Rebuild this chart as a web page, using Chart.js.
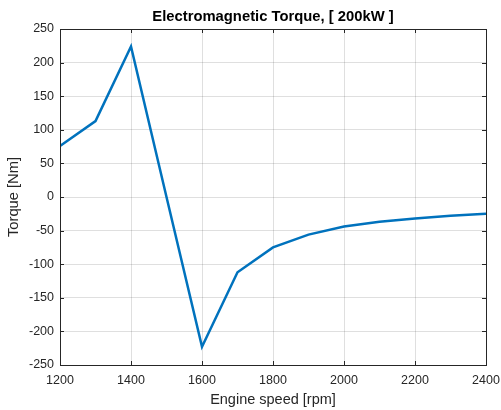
<!DOCTYPE html>
<html>
<head>
<meta charset="utf-8">
<script src="https://cdn.jsdelivr.net/npm/chart.js@4"></script>
<style>
  html, body { margin: 0; padding: 0; background: #fff; }
  #wrap { width: 501px; height: 410px; }
</style>
</head>
<body>
<div id="wrap"><canvas id="c" width="501" height="410"></canvas></div>
<script>
const rpm = [1200, 1300, 1400, 1500, 1600, 1700, 1800, 1900, 2000, 2100, 2200, 2300, 2400];
const torque = [76, 113, 224, 0, -223, -112, -75, -56, -44, -37, -32, -28, -25];
const xTicks = [1200, 1400, 1600, 1800, 2000, 2200, 2400];
const yTicks = [-250, -200, -150, -100, -50, 0, 50, 100, 150, 200, 250];
const titleText = 'Electromagnetic Torque, [ 200kW ]';
const xLabel = 'Engine speed [rpm]';
const yLabel = 'Torque [Nm]';

const FONT = 'Liberation Sans, Arial, Helvetica, sans-serif';
const AXC = '#262626';

const boxPlugin = {
  id: 'boxTicks',
  afterLayout(chart) {
    const t = chart.titleBlock;
    if (t) { t.left = chart.chartArea.left; t.right = chart.chartArea.right; }
  },
  afterDraw(chart) {
    const {ctx, chartArea: a, scales: {x, y}} = chart;
    ctx.save();
    ctx.strokeStyle = AXC;
    ctx.lineWidth = 1;
    const tl = 4;
    ctx.beginPath();
    xTicks.forEach(v => {
      const px = Math.round(x.getPixelForValue(v)) + 0.5;
      ctx.moveTo(px, a.bottom); ctx.lineTo(px, a.bottom - tl);
      ctx.moveTo(px, a.top); ctx.lineTo(px, a.top + tl);
    });
    yTicks.forEach(v => {
      const py = Math.round(y.getPixelForValue(v)) + 0.5;
      ctx.moveTo(a.left, py); ctx.lineTo(a.left + tl, py);
      ctx.moveTo(a.right, py); ctx.lineTo(a.right - tl, py);
    });
    ctx.stroke();
    ctx.strokeRect(Math.round(a.left) + 0.5, Math.round(a.top) + 0.5,
                   Math.round(a.right - a.left), Math.round(a.bottom - a.top));
    ctx.restore();
  }
};

new Chart(document.getElementById('c'), {
  type: 'line',
  data: {
    datasets: [{
      data: rpm.map((r, i) => ({x: r, y: torque[i]})),
      borderColor: '#0072BD',
      borderWidth: 2.5,
      pointRadius: 0,
      fill: false,
      tension: 0
    }]
  },
  options: {
    responsive: false,
    animation: false,
    devicePixelRatio: 1,
    layout: { padding: { left: 0, right: 15, top: 0, bottom: 0 } },
    plugins: {
      legend: { display: false },
      tooltip: { enabled: false },
      title: {
        display: true,
        text: titleText,
        color: '#000',
        font: { family: FONT, size: 14.8, weight: 'bold', lineHeight: 1.2 },
        padding: { top: 7.7, bottom: 3.54 }
      }
    },
    scales: {
      x: {
        type: 'linear',
        min: 1200, max: 2400,
        afterBuildTicks: s => { s.ticks = xTicks.map(v => ({value: v})); },
        afterFit: s => { s.height = 45; s.paddingLeft = 0; s.paddingRight = 0; },
        grid: { color: 'rgba(38,38,38,0.15)', drawTicks: false },
        border: { display: false },
        ticks: { color: AXC, font: { family: FONT, size: 12.5 }, padding: 7.7, maxRotation: 0, autoSkip: false,
                 callback: v => String(v) },
        title: { display: true, text: xLabel, color: AXC, font: { family: FONT, size: 14.5, lineHeight: 1.2 }, padding: { top: 0, bottom: 1.8 } }
      },
      y: {
        type: 'linear',
        min: -250, max: 250,
        afterBuildTicks: s => { s.ticks = yTicks.map(v => ({value: v})); },
        afterFit: s => { s.width = 60; s.paddingTop = 0; s.paddingBottom = 0; },
        grid: { color: 'rgba(38,38,38,0.15)', drawTicks: false },
        border: { display: false },
        ticks: { color: AXC, font: { family: FONT, size: 12.5 }, padding: 6, autoSkip: false,
                 callback: v => String(v) },
        title: { display: true, text: yLabel, color: AXC, font: { family: FONT, size: 14.7, lineHeight: 1.2 }, padding: { top: 5.6, bottom: 0 } }
      }
    }
  },
  plugins: [boxPlugin]
});
</script>
</body>
</html>
